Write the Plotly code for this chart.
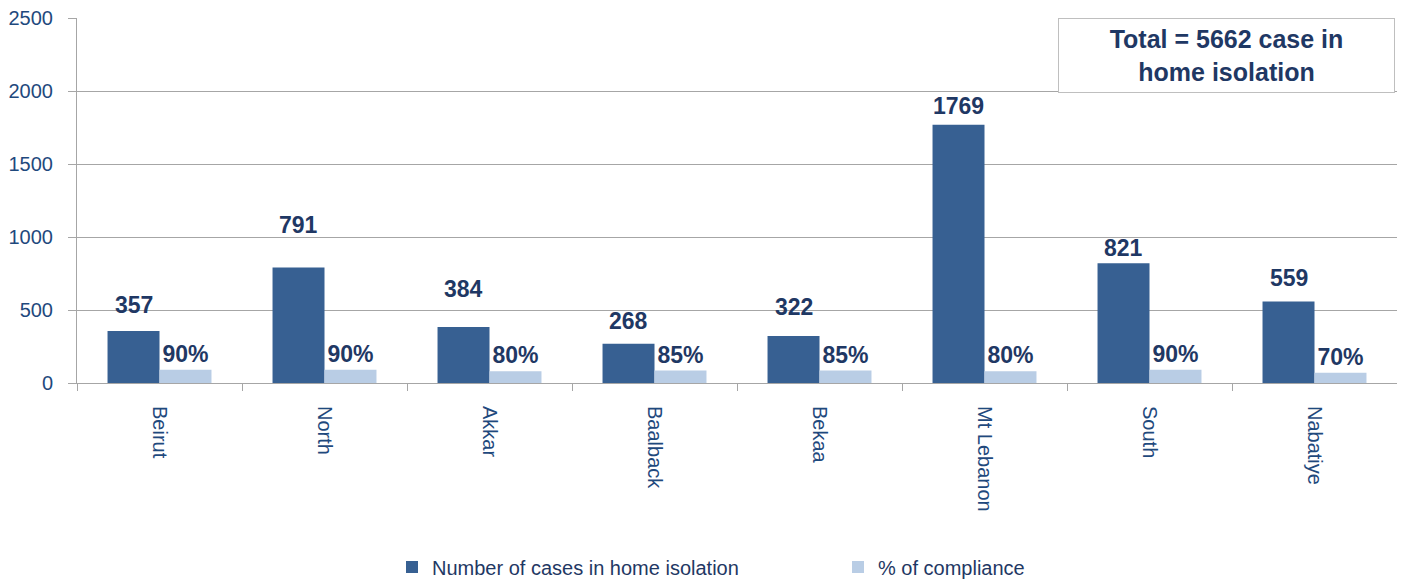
import plotly.graph_objects as go

regions = ["Beirut", "North", "Akkar", "Baalback", "Bekaa", "Mt Lebanon", "South", "Nabatiye"]
cases = [357, 791, 384, 268, 322, 1769, 821, 559]
compliance = [90, 90, 80, 85, 85, 80, 90, 70]
compliance_labels = ["90%", "90%", "80%", "85%", "85%", "80%", "90%", "70%"]
case_label_shift = [26, 43, 38, 23, 29, 19, 15, 23]

DARK = "#376092"
LIGHT = "#B9CDE5"
NAVY = "#1F3864"
TICKC = "#1F497D"
GRID = "#A6A6A6"
LABEL_FONT = dict(family="Liberation Sans", size=23, color=NAVY)

# the page body has an 8px margin, so the figure is sized to fit inside the window
W, H = 1397, 575

fig = go.Figure()
fig.add_trace(go.Bar(x=regions, y=cases, name="Number of cases in home isolation",
                     marker=dict(color=DARK, line=dict(width=0))))
fig.add_trace(go.Bar(x=regions, y=compliance, name="% of compliance",
                     marker=dict(color=LIGHT, line=dict(width=0)),
                     text=compliance_labels, texttemplate="<b>%{text}</b>",
                     textposition="outside",
                     textfont=dict(family="Liberation Sans", size=23, color=NAVY),
                     cliponaxis=False))

for i, (r, v) in enumerate(zip(regions, cases)):
    fig.add_annotation(x=r, y=v, xshift=-26, yshift=case_label_shift[i], yanchor="middle",
                       text="<b>%d</b>" % v, showarrow=False, font=LABEL_FONT)

fig.add_annotation(xref="paper", yref="paper", x=0.9985, y=1.0, xanchor="right", yanchor="top",
                   text="<b>Total = 5662 case in<br>home isolation</b>", showarrow=False,
                   font=dict(family="Liberation Sans", size=25, color=NAVY),
                   bordercolor="#BFBFBF", borderwidth=1, bgcolor="white",
                   width=333, height=71, align="center")

fig.update_layout(
    width=W, height=H,
    margin=dict(l=69, r=8, t=10, b=200, autoexpand=False),
    paper_bgcolor="white", plot_bgcolor="white",
    barmode="group", bargap=0.37, bargroupgap=0,
    font=dict(family="Liberation Sans", color=TICKC),
    showlegend=True,
    legend=dict(orientation="h", xref="container", yref="container",
                x=384 / W, xanchor="left", y=16 / H, yanchor="middle",
                font=dict(size=20, color=NAVY), entrywidth=401, itemwidth=30),
)
fig.update_yaxes(range=[0, 2500], dtick=500, showgrid=True, gridcolor=GRID, gridwidth=1,
                 showline=True, linecolor=GRID, linewidth=1,
                 ticks="outside", ticklen=8, tickcolor=GRID,
                 tickfont=dict(size=20, color=TICKC), zeroline=False,
                 ticklabelstandoff=11, automargin=False, ticklabeloverflow="allow")
fig.update_xaxes(showline=True, linecolor=GRID, linewidth=1,
                 ticks="outside", tickson="boundaries", ticklen=7, tickcolor=GRID,
                 tickangle=90, tickfont=dict(size=20, color=TICKC),
                 ticklabelstandoff=18, automargin=False, ticklabeloverflow="allow")

fig.write_html("out.html")
